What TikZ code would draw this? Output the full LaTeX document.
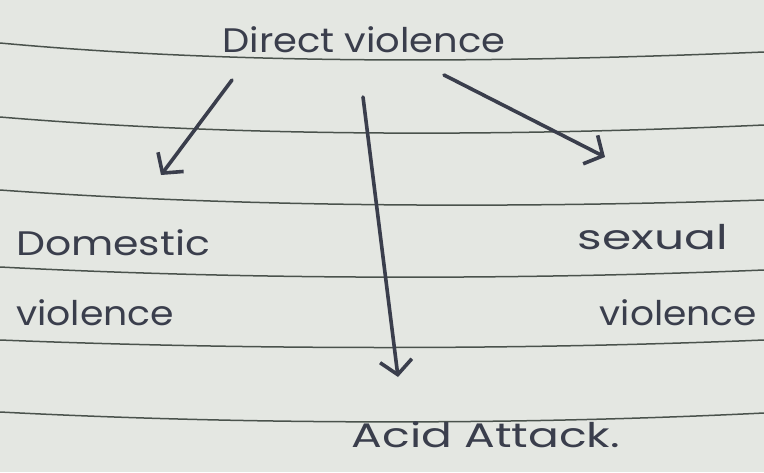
\documentclass[tikz,border=0pt]{standalone}
\usepackage{fontspec}
\setmainfont{Poppins}
\usetikzlibrary{arrows.meta}
\definecolor{paper}{HTML}{E4E7E2}
\definecolor{rule}{HTML}{4A524C}
\definecolor{ink}{HTML}{3A3E4C}
\newcommand{\hw}[2]{\resizebox{#1}{\height}{#2}}
\tikzset{
  ruled/.style={draw=rule, line width=1.5pt},
  inkarrow/.style={draw=ink, line width=3.6pt, line cap=round,
    -{Straight Barb[length=14pt,width=32pt,line width=3.6pt]}},
  hand/.style={text=ink, inner sep=0pt, font=\fontsize{34}{38}\selectfont},
}
\begin{document}
\begin{tikzpicture}[x=1pt,y=-1pt]
\fill[paper] (0,0) rectangle (764,472);
\useasboundingbox (0,0) rectangle (764,472);
% ruled lines
\draw[ruled] (0,43) .. controls (250,66) and (520,62) .. (764,52);
\draw[ruled] (0,117) .. controls (250,138) and (520,136) .. (764,125);
\draw[ruled] (0,190) .. controls (250,208) and (520,208) .. (764,200);
\draw[ruled] (0,267) .. controls (250,280) and (520,280) .. (764,270);
\draw[ruled] (0,340) .. controls (250,350) and (520,350) .. (764,340);
\draw[ruled] (0,412) .. controls (250,425) and (520,425) .. (764,413);
% texts
\node[hand] (dv) at (364,40) {\hw{283pt}{Direct violence}};
\node[hand, anchor=west] (dom) at (16,243) {\hw{194pt}{Domestic}};
\node[hand, anchor=west] (domv) at (16,313) {\hw{158pt}{violence}};
\node[hand, anchor=east] (sex) at (728,237) {\hw{150pt}{sexual}};
\node[hand, anchor=east] (sexv) at (757,313) {\hw{157pt}{violence}};
\node[hand] (acid) at (486,435) {\hw{268pt}{Acid Attack.}};
% arrow end points
\coordinate (l0) at (232,80);
\coordinate (l1) at (161,175);
\coordinate (m0) at (363,97);
\coordinate (m1) at (398,377);
\coordinate (r0) at (444,75);
\coordinate (r1) at (605,157);
\draw[inkarrow] (l0) -- (l1);
\draw[inkarrow] (m0) -- (m1);
\draw[inkarrow] (r0) -- (r1);
\end{tikzpicture}
\end{document}
